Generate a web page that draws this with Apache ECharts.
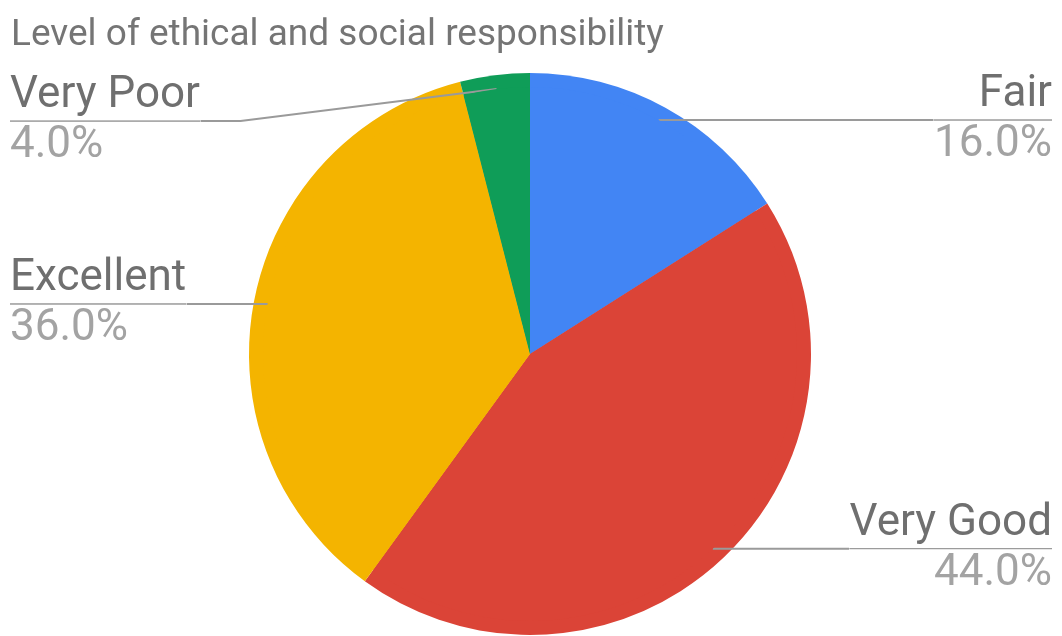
<!DOCTYPE html>
<html>
<head>
<meta charset="utf-8">
<title>Level of ethical and social responsibility</title>
<script src="https://cdn.jsdelivr.net/npm/echarts@6/dist/echarts.min.js"></script>
<style>
  html, body { margin: 0; padding: 0; background: #fff; }
  #chart { width: 1062px; height: 636px; }
</style>
</head>
<body>
<div id="chart"></div>
<script>
// data
const categories = ['Fair', 'Very Good', 'Excellent', 'Very Poor'];
const values = [16, 44, 36, 4];
const colors = ['#4285f4', '#db4437', '#f4b400', '#0f9d58'];

const chart = echarts.init(document.getElementById('chart'));

const pieData = categories.map((name, i) => ({
    name: name,
    value: values[i],
    itemStyle: { color: colors[i] }
}));

// Very Poor label is pushed down below the title
const shiftIndex = 3;
const shiftY = 32;
const lineColor = '#9a9a9a';

chart.setOption({
    animation: false,
    title: {
        text: 'Level of ethical and social responsibility',
        left: 6,
        top: 12,
        textStyle: {
            fontFamily: 'Roboto',
            fontSize: 37,
            fontWeight: 'normal',
            color: '#757575'
        }
    },
    series: [
        {
            // the coloured pie
            type: 'pie',
            z: 1,
            center: [530, 354],
            radius: 281,
            startAngle: 90,
            clockwise: true,
            silent: true,
            label: { show: false },
            labelLine: { show: false },
            itemStyle: { borderWidth: 0 },
            data: pieData
        },
        {
            // transparent copy, only for labels (lines start inside the slice)
            type: 'pie',
            z: 5,
            center: [530, 354],
            radius: 267,
            startAngle: 90,
            clockwise: true,
            silent: true,
            avoidLabelOverlap: false,
            itemStyle: { color: 'rgba(0,0,0,0)', borderWidth: 0 },
            label: {
                show: true,
                position: 'outside',
                alignTo: 'edge',
                edgeDistance: 10,
                overflow: 'none',
                fontFamily: 'Roboto',
                formatter: function (p) {
                    return '{n|' + p.name + '}\n{hr|}\n{p|' + p.percent.toFixed(1) + '%}';
                },
                rich: {
                    n: { fontFamily: 'Roboto', fontSize: 44, color: '#6f6f6f', lineHeight: 50 },
                    hr: { width: '100%', height: 0, borderWidth: 1, borderColor: lineColor },
                    p: { fontFamily: 'Roboto', fontSize: 44, color: '#a3a3a3', lineHeight: 50 }
                }
            },
            labelLine: {
                show: true,
                length: 0,
                length2: 20,
                lineStyle: { color: lineColor, width: 2 }
            },
            labelLayout: function (p) {
                const start = p.labelLinePoints[0];
                const r = p.labelRect;
                const leftSide = r.x + r.width / 2 < 530;
                const edgeX = leftSide ? r.x + r.width : r.x;
                if (p.dataIndex === shiftIndex) {
                    const y = r.y + r.height / 2 + shiftY;
                    return {
                        dy: shiftY,
                        labelLinePoints: [start, [edgeX + 40, y], [edgeX, y]]
                    };
                }
                const y = r.y + r.height / 2;
                return {
                    labelLinePoints: [start, start, [edgeX, y]]
                };
            },
            data: pieData
        }
    ]
});
</script>
</body>
</html>
